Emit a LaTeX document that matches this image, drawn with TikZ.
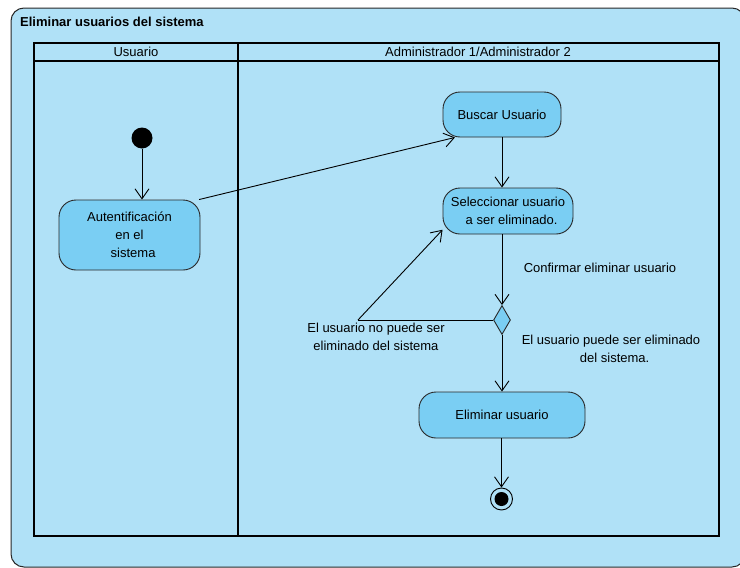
\documentclass[tikz,border=0pt]{standalone}
\usepackage{fontspec}
\setmainfont{Liberation Sans}
\usetikzlibrary{arrows.meta,shapes.geometric}
\definecolor{framebg}{RGB}{176,225,247}
\definecolor{nodebg}{RGB}{122,206,243}
\definecolor{edgecol}{RGB}{40,40,40}
\tikzset{
  act/.style={draw=edgecol, line width=0.9pt, fill=nodebg, rounded corners=17pt, align=center, inner sep=0pt,
    font=\fontsize{13}{18}\selectfont},
  flow/.style={draw=black, line width=0.9pt, -{Straight Barb[length=10pt,width=14pt,line width=0.9pt]}},
  plain/.style={draw=black, line width=0.9pt},
  lbl/.style={align=center, inner sep=0pt, font=\fontsize{13}{18}\selectfont},
  pool/.style={draw=black, line width=2.4pt},
}
\begin{document}
\begin{tikzpicture}[x=1pt,y=-1pt]
\useasboundingbox (0,0) rectangle (740,568);
\fill[white] (0,0) rectangle (740,568);
% outer frame
\draw[draw=edgecol, line width=1pt, fill=framebg, rounded corners=13pt] (11,8) rectangle (745,567);
\node[anchor=west, inner sep=0pt, font=\fontsize{13}{16}\selectfont\bfseries] (title) at (20,22) {Eliminar usuarios del sistema};
% pool
\draw[pool] (34,43) rectangle (719,536);
\draw[pool] (34,61) -- (719,61);
\draw[pool] (238,43) -- (238,536);
\node[lbl] (lane1) at (136,52) {Usuario};
\node[lbl] (lane2) at (478,52) {Administrador 1/Administrador 2};
% nodes
\node[circle, fill=black, minimum size=21pt, inner sep=0pt] (init) at (142,138) {};
\node[act, minimum width=141pt, minimum height=70pt] (auth) at (129.5,235) {Autentificación\\en el\\\ \ sistema};
\node[act, minimum width=118pt, minimum height=45pt] (busc) at (502,114.5) {Buscar Usuario};
\node[act, minimum width=130pt, minimum height=46pt] (sel) at (508,211) {Seleccionar usuario\\\ \ a ser eliminado.};
\node[diamond, draw=edgecol, line width=0.9pt, fill=nodebg, minimum width=17pt, minimum height=29pt, inner sep=0pt] (dec) at (502,320) {};
\node[act, minimum width=166pt, minimum height=46pt] (elim) at (502,415) {Eliminar usuario};
\node[circle, draw=black, line width=0.9pt, fill=framebg, minimum size=22pt, inner sep=0pt] (fin) at (501.5,499) {};
\node[circle, fill=black, minimum size=14pt, inner sep=0pt] (finin) at (fin) {};
\coordinate (bend) at (358,320);
% edges
\draw[flow] (init) -- (init |- auth.north);
\draw[flow] (auth.27) -- (busc.206);
\draw[flow] (busc) -- (busc |- sel.north);
\draw[flow] (sel.south -| dec) -- (dec.north);
\draw[plain] (dec.west) -- (bend);
\draw[flow] (bend) -- (sel.196);
\draw[flow] (dec.south) -- (elim);
\draw[flow] (elim.south -| fin) -- (fin.north);
% labels
\node[lbl] (l1) at (600,268) {Confirmar eliminar usuario};
\node[lbl] (l2) at (376,337) {El usuario no puede ser\\eliminado del sistema};
\node[lbl] (l3) at (611,349) {El usuario puede ser eliminado\\\ \ del sistema.};
\end{tikzpicture}
\end{document}
